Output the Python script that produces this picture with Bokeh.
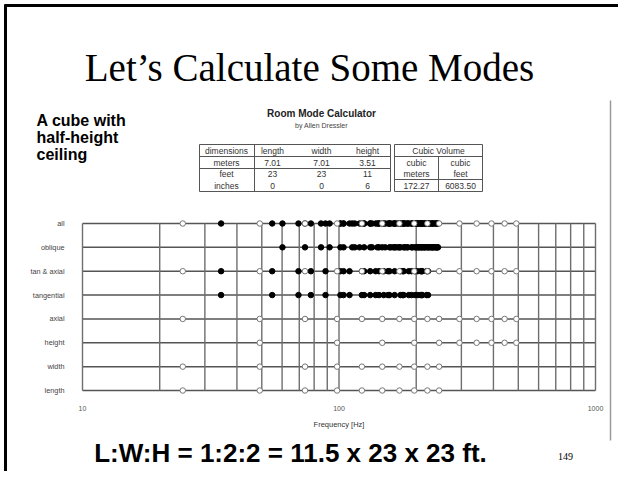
from bokeh.plotting import figure
from bokeh.models import Range1d, LogScale
from bokeh.core.properties import value
from bokeh.embed import file_html
from bokeh.resources import INLINE

# ---------------- data ----------------
row_labels = ["length", "width", "height", "axial", "tangential", "tan & axial", "oblique", "all"]

length_modes = [24.6, 49.1, 73.7, 98.3, 122.8, 147.4, 172.0, 196.5, 221.1, 245.7]
width_modes = [24.6, 49.1, 73.7, 98.3, 122.8, 147.4, 172.0, 196.5, 221.1, 245.7]
height_modes = [49.1, 98.3, 147.4, 196.5, 245.7, 294.8, 344.0, 393.0, 442.2, 491.3]
tangential_modes = [34.7, 54.9, 69.5, 77.7, 88.6, 101.3, 104.2, 109.9, 122.8, 125.3,
                    132.3, 139.0, 143.2, 149.4, 155.4, 157.3, 164.8, 173.7, 177.1, 178.8,
                    187.1, 191.9, 198.1, 202.6, 208.4, 209.9, 211.3, 219.7, 222.4]
oblique_modes = [60.2, 73.7, 85.1, 91.9, 101.3, 104.2, 112.6, 115.2, 120.3, 125.3,
                 132.3, 134.5, 141.1, 143.2, 147.4, 151.4, 157.3, 159.2, 162.9, 164.8,
                 166.6, 170.2, 172.0, 173.7, 178.8, 180.5, 183.8, 185.5, 191.9, 193.4,
                 198.1, 199.6, 202.6, 204.1, 205.5, 208.4, 209.9, 211.3, 214.2, 215.6,
                 217.0, 221.1, 222.4, 225.1, 227.8, 230.4, 231.8, 233.0, 236.9, 238.2,
                 240.7, 241.9, 243.2]

grid_freqs = [10, 20, 30, 40, 50, 60, 70, 80, 90, 100,
              200, 300, 400, 500, 600, 700, 800, 900, 1000]
tick_vals = [10, 100, 1000]
tick_labels = ["10", "100", "1000"]

table_col_names = ["dimensions", "length", "width", "height"]
table_meters = ["meters", "7.01", "7.01", "3.51"]
table_feet = ["feet", "23", "23", "11"]
table_inches = ["inches", "0", "0", "6"]
volume_title = "Cubic Volume"
volume_units_top = ["cubic", "cubic"]
volume_units_bottom = ["meters", "feet"]
volume_values = ["172.27", "6083.50"]

title_text = "Let\u2019s Calculate Some Modes"
subtitle_lines = ["A cube with", "half-height", "ceiling"]
bottom_text = "L:W:H = 1:2:2 = 11.5 x 23 x 23 ft."
page_number = "149"

# ------------- figure (page-pixel coordinates) -------------
W, H = 618, 471
p = figure(width=W, height=H, x_range=Range1d(0, W), y_range=Range1d(H, 0),
           output_backend="svg", toolbar_location=None,
           x_axis_location=None, y_axis_location=None, min_border=0)
p.outline_line_color = None
p.grid.visible = False
p.background_fill_color = "white"

# log frequency scale: 10 Hz at x=82, 1000 Hz at x=595
p.extra_x_ranges = {"freq": Range1d(10 ** (1 - 82 / 256.5), 10 ** (3 + (W - 595) / 256.5))}
p.extra_x_scales = {"freq": LogScale()}
# rows: index 0 at y=390, index 7 at y=223
u = 7 / (390 - 223)
p.extra_y_ranges = {"rows": Range1d(-(H - 390) * u, 7 + 223 * u)}

# slide frame
p.segment(x0=[4, 5], y0=[5, 4], x1=[W, 5], y1=[5, H], line_color="black", line_width=3)
# screenshot edge line on right
p.segment(x0=[610], y0=[100], x1=[610], y1=[440], line_color="#9a9a9a", line_width=1.5)

# title
p.text(x=[309], y=[67], text=[title_text], text_font=value("Liberation Serif"),
       text_font_size="39px", text_align="center", text_baseline="middle", text_color="black")

# subtitle (left)
p.text(x=[36, 36, 36], y=[120, 137, 154], text=subtitle_lines, text_font=value("Liberation Sans"),
       text_font_style="bold", text_font_size="16px", text_align="left", text_baseline="middle",
       text_color="black")

# calculator heading
p.text(x=[321], y=[113], text=["Room Mode Calculator"], text_font=value("Liberation Sans"),
       text_font_style="bold", text_font_size="10px", text_align="center", text_baseline="middle",
       text_color="#222222")
p.text(x=[321], y=[125], text=["by Allen Dressler"], text_font=value("Liberation Sans"),
       text_font_size="7px", text_align="center", text_baseline="middle", text_color="#444444")

# table lines
tl, tr1, tr2, tr = 199, 390, 394, 482
ttop, th, t1, t2, tbot = 144, 156, 168, 179, 191
hx0 = [tl, tl, tl, tl, tr2, tr2, tr2, tr2]
hy = [ttop, th, t1, tbot, ttop, th, t2, tbot]
hx1 = [tr1, tr1, tr1, tr1, tr, tr, tr, tr]
p.segment(x0=hx0, y0=hy, x1=hx1, y1=hy, line_color="#555555", line_width=1)
vx = [tl, 254, tr1, tr2, 438, tr]
vy0 = [ttop, ttop, ttop, ttop, th, ttop]
vy1 = [tbot] * 6
p.segment(x0=vx, y0=vy0, x1=vx, y1=vy1, line_color="#555555", line_width=1)

col_x = [226, 272, 321, 367]
tfs = "8.5px"
for texts, yy in [(table_col_names, 150), (table_meters, 162), (table_feet, 173.5), (table_inches, 185)]:
    p.text(x=col_x, y=[yy] * 4, text=texts, text_font=value("Liberation Sans"), text_font_size=tfs,
           text_align="center", text_baseline="middle", text_color="#333333")
p.text(x=[438], y=[150], text=[volume_title], text_font=value("Liberation Sans"), text_font_size=tfs,
       text_align="center", text_baseline="middle", text_color="#333333")
vol_x = [416, 460]
for texts, yy in [(volume_units_top, 162), (volume_units_bottom, 173), (volume_values, 185)]:
    p.text(x=vol_x, y=[yy] * 2, text=texts, text_font=value("Liberation Sans"), text_font_size=tfs,
           text_align="center", text_baseline="middle", text_color="#333333")

# ------------- mode chart -------------
n_rows = len(row_labels)
row_idx = list(range(n_rows))
axial_modes = sorted(set(length_modes + width_modes + height_modes))

# row lines
p.segment(x0=[tick_vals[0]] * n_rows, y0=row_idx, x1=[tick_vals[-1]] * n_rows, y1=row_idx,
          x_range_name="freq", y_range_name="rows", line_color="#555555", line_width=1.5)
# vertical grid
p.segment(x0=grid_freqs, y0=[0] * len(grid_freqs), x1=grid_freqs, y1=[n_rows - 1] * len(grid_freqs),
          x_range_name="freq", y_range_name="rows", line_color="#6e6e6e", line_width=1.4)

open_sets = {0: length_modes, 1: width_modes, 2: height_modes, 3: axial_modes, 5: axial_modes, 7: axial_modes}
filled_sets = {4: tangential_modes, 5: tangential_modes, 6: oblique_modes, 7: tangential_modes + oblique_modes}

fx, fy = [], []
for r, vals in filled_sets.items():
    fx += vals
    fy += [r] * len(vals)
ox, oy = [], []
for r, vals in open_sets.items():
    ox += vals
    oy += [r] * len(vals)

p.scatter(x=fx, y=fy, marker="circle", size=5.5, fill_color="black", line_color="black",
          x_range_name="freq", y_range_name="rows")
p.scatter(x=ox, y=oy, marker="circle", size=5.5, fill_color="white", line_color="#777777", line_width=1,
          x_range_name="freq", y_range_name="rows")

# row labels
p.text(x=[tick_vals[0]] * n_rows, y=row_idx, text=row_labels, x_offset=-18,
       x_range_name="freq", y_range_name="rows", text_font=value("Liberation Sans"),
       text_font_size="7.3px", text_align="right", text_baseline="middle", text_color="#444444")
# tick labels
p.text(x=tick_vals, y=[0] * len(tick_vals), text=tick_labels, y_offset=18,
       x_range_name="freq", y_range_name="rows", text_font=value("Liberation Sans"),
       text_font_size="7px", text_align="center", text_baseline="middle", text_color="#555555")
p.text(x=[tick_vals[1]], y=[0], text=["Frequency [Hz]"], y_offset=34,
       x_range_name="freq", y_range_name="rows", text_font=value("Liberation Sans"),
       text_font_size="7.5px", text_align="center", text_baseline="middle", text_color="#333333")

# bottom text
p.text(x=[290], y=[452], text=[bottom_text], text_font=value("Liberation Sans"), text_font_style="bold",
       text_font_size="26px", text_align="center", text_baseline="middle", text_color="black")
p.text(x=[565], y=[456], text=[page_number], text_font=value("Liberation Serif"),
       text_font_size="10px", text_align="center", text_baseline="middle", text_color="black")

open("out.html", "w").write(file_html(p, INLINE))
